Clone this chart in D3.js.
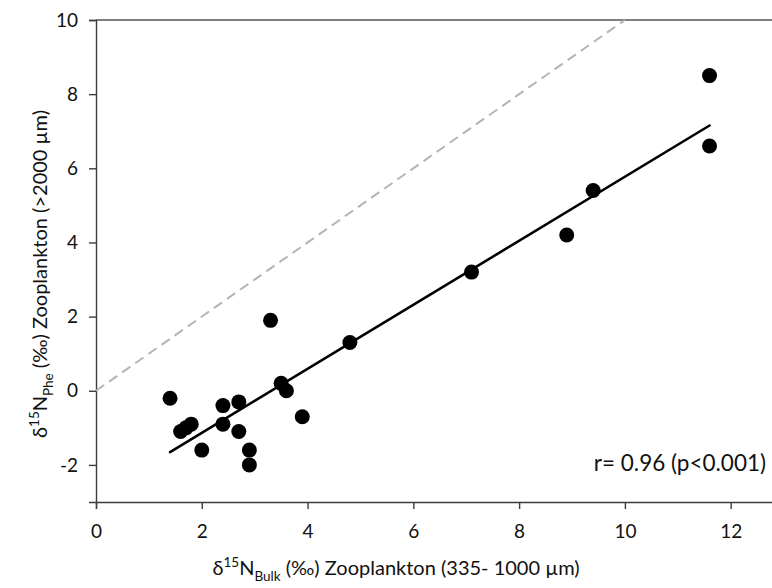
<!DOCTYPE html>
<html>
<head>
<meta charset="utf-8">
<script src="https://cdn.jsdelivr.net/npm/d3@7/dist/d3.min.js"></script>
<style>
  body { margin: 0; background: #fff; }
  svg { display: block; font-family: Lato, "Open Sans", sans-serif; }
</style>
</head>
<body>
<svg id="chart" width="772" height="588"></svg>
<script>
// δ15N bulk (335–1000 µm) vs δ15N phenylalanine (>2000 µm) zooplankton
const bulkN = [1.4, 1.6, 1.7, 1.8, 2.0, 2.4, 2.4, 2.7, 2.7, 2.9, 2.9, 3.3, 3.5, 3.6, 3.9, 4.8, 7.1, 8.9, 9.4, 11.6, 11.6];
const pheN  = [-0.2, -1.1, -1.0, -0.9, -1.6, -0.4, -0.9, -0.3, -1.1, -1.6, -2.0, 1.9, 0.2, 0.0, -0.7, 1.3, 3.2, 4.2, 5.4, 6.6, 8.5];
const xTicks = [0, 2, 4, 6, 8, 10, 12];
const yTicks = [-2, 0, 2, 4, 6, 8, 10];
const statText = "r= 0.96 (p<0.001)";

const svg = d3.select("#chart");
const plot = { left: 96, right: 773, top: 20, bottom: 502 };

const x = d3.scaleLinear().domain([0, 12.8]).range([plot.left, plot.right]);
const y = d3.scaleLinear().domain([-3, 10]).range([plot.bottom, plot.top]);

const axisColor = "#3c3c3c";
const textColor = "#111";
const fmt = d => String(d); // plain hyphen for negatives

// top frame line
svg.append("line")
  .attr("x1", plot.left).attr("x2", 772).attr("y1", plot.top).attr("y2", plot.top)
  .attr("stroke", "#555").attr("stroke-width", 1.4);

// x axis
const gx = svg.append("g").attr("transform", `translate(0,${plot.bottom})`)
  .call(d3.axisBottom(x).tickValues(xTicks).tickSize(7).tickPadding(16).tickFormat(fmt));
gx.select(".domain").attr("stroke", axisColor).attr("stroke-width", 1.4);
gx.selectAll(".tick line").attr("stroke", axisColor).attr("stroke-width", 1.4);
gx.selectAll(".tick text").attr("font-size", 19).attr("fill", textColor)
  .attr("font-family", "Lato, sans-serif");

// y axis
const gy = svg.append("g").attr("transform", `translate(${plot.left},0)`)
  .call(d3.axisLeft(y).tickValues(yTicks).tickSize(7).tickPadding(11).tickFormat(fmt));
gy.select(".domain").attr("stroke", axisColor).attr("stroke-width", 1.4);
gy.selectAll(".tick line").attr("stroke", axisColor).attr("stroke-width", 1.4);
gy.selectAll(".tick text").attr("font-size", 19).attr("fill", textColor)
  .attr("font-family", "Lato, sans-serif");

// 1:1 reference line
svg.append("line")
  .attr("x1", x(0)).attr("y1", y(0))
  .attr("x2", x(10)).attr("y2", y(10))
  .attr("stroke", "#b4b4b4").attr("stroke-width", 2)
  .attr("stroke-dasharray", "10,6");

// least-squares fit
const mx = d3.mean(bulkN), my = d3.mean(pheN);
let sxy = 0, sxx = 0;
bulkN.forEach((v, i) => { sxy += (v - mx) * (pheN[i] - my); sxx += (v - mx) ** 2; });
const slope = sxy / sxx, intercept = my - slope * mx;
const [x0, x1] = d3.extent(bulkN);
svg.append("line")
  .attr("x1", x(x0)).attr("y1", y(intercept + slope * x0))
  .attr("x2", x(x1)).attr("y2", y(intercept + slope * x1))
  .attr("stroke", "#000").attr("stroke-width", 2.6).attr("stroke-linecap", "round");

// data points
svg.append("g").selectAll("circle")
  .data(bulkN.map((v, i) => [v, pheN[i]]))
  .join("circle")
  .attr("cx", d => x(d[0])).attr("cy", d => y(d[1]))
  .attr("r", 7.5).attr("fill", "#000");

// correlation text
svg.append("text")
  .attr("x", 766).attr("y", 471).attr("text-anchor", "end")
  .attr("font-size", 22.5).attr("fill", textColor)
  .text(statText);

// x axis title
const xt = svg.append("text")
  .attr("x", 396).attr("y", 575).attr("text-anchor", "middle")
  .attr("font-size", 20).attr("fill", textColor);
xt.append("tspan").text("δ");
xt.append("tspan").attr("font-size", 13.5).attr("dy", -8).text("15");
xt.append("tspan").attr("dy", 8).text("N");
xt.append("tspan").attr("font-size", 13.5).attr("dy", 6).text("Bulk");
xt.append("tspan").attr("dy", -6).text(" (‰) Zooplankton (335- 1000 µm)");

// y axis title
const yt = svg.append("text")
  .attr("transform", "translate(47,274) rotate(-90)")
  .attr("text-anchor", "middle")
  .attr("font-size", 20).attr("fill", textColor);
yt.append("tspan").text("δ");
yt.append("tspan").attr("font-size", 13.5).attr("dy", -8).text("15");
yt.append("tspan").attr("dy", 8).text("N");
yt.append("tspan").attr("font-size", 13.5).attr("dy", 6).text("Phe");
yt.append("tspan").attr("dy", -6).text(" (‰) Zooplankton (>2000 µm)");
</script>
</body>
</html>
